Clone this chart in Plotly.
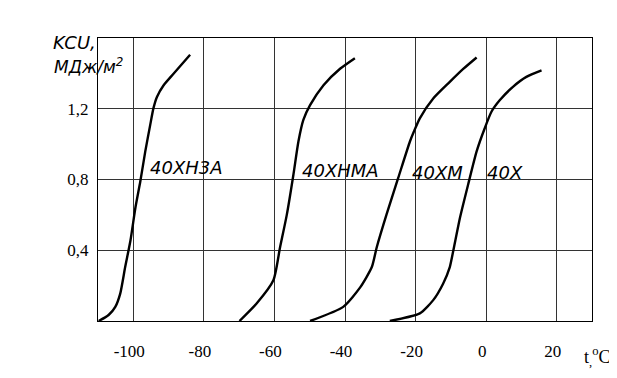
import plotly.graph_objects as go

# --- data ---
x_40xn3a = [-109.8, -107.0, -105.1, -103.7, -102.3, -100.8, -99.4, -98.0, -96.6, -95.2, -94.3,
            -93.3, -91.4, -88.6, -83.9]
y_40xn3a = [0.0, 0.034, 0.08, 0.155, 0.305, 0.455, 0.64, 0.79, 0.959, 1.109, 1.202,
            1.267, 1.333, 1.398, 1.505]

x_40xnma = [-69.9, -65.0, -60.3, -58.4, -56.5, -54.6, -53.2, -51.8, -49.9, -46.1, -41.4, -37.2]
y_40xnma = [0.0, 0.10, 0.23, 0.417, 0.60, 0.83, 1.015, 1.137, 1.22, 1.333, 1.426, 1.486]

x_40xm = [-49.9, -40.5, -35.7, -32.4, -31.0, -28.2, -24.9, -21.6, -20.5, -18.8, -15.0, -10.3, -6.5, -2.7]
y_40xm = [0.0, 0.08, 0.19, 0.305, 0.417, 0.604, 0.81, 1.015, 1.07, 1.146, 1.258, 1.352, 1.425, 1.49]

x_40x = [-27.3, -18.8, -15.0, -12.2, -10.3, -9.3, -7.4, -5.1, -2.7, -0.4, 1.5, 3.9, 7.6, 11.4, 15.7]
y_40x = [0.0, 0.043, 0.118, 0.211, 0.305, 0.398, 0.585, 0.772, 0.959, 1.09, 1.183, 1.249,
         1.324, 1.38, 1.417]

series_names = ["40ХН3А", "40ХНМА", "40ХМ", "40Х"]
label_x = [-95.8, -52.7, -21.6, -0.4]
label_y = [0.87, 0.85, 0.84, 0.84]

x_tickvals = [-100, -80, -60, -40, -20, 0, 20]
x_ticktext = ["-100", "-80", "-60", "-40", "-20", "0", "20"]
y_tickvals = [0.4, 0.8, 1.2]
y_ticktext = ["0,4", "0,8", "1,2"]

SERIF = "Liberation Serif"
SANS_IT = "DejaVu Sans"

fig = go.Figure()
for xs, ys, name in zip([x_40xn3a, x_40xnma, x_40xm, x_40x],
                        [y_40xn3a, y_40xnma, y_40xm, y_40x], series_names):
    fig.add_trace(go.Scatter(x=xs, y=ys, mode="lines", name=name,
                             line=dict(color="black", width=2.4, shape="spline", smoothing=0.6),
                             showlegend=False, hoverinfo="skip"))

for name, lx, ly in zip(series_names, label_x, label_y):
    fig.add_annotation(x=lx, y=ly, text=name, showarrow=False, xanchor="left", yanchor="middle",
                       font=dict(family=SANS_IT, size=18, color="black", style="italic"))

fig.add_annotation(xref="paper", yref="paper", x=-0.095, y=0.985, text="KCU,", showarrow=False,
                   xanchor="left", yanchor="middle",
                   font=dict(family=SANS_IT, size=18, color="black", style="italic"))
fig.add_annotation(xref="paper", yref="paper", x=-0.093, y=0.9, text="МДж/м<sup>2</sup>", showarrow=False,
                   xanchor="left", yanchor="middle",
                   font=dict(family=SANS_IT, size=17, color="black", style="italic"))
fig.add_annotation(xref="paper", yref="paper", x=1.01, y=-0.125, text="t<sub>,</sub><sup>o</sup>C",
                   showarrow=False, xanchor="center", yanchor="middle",
                   font=dict(family=SERIF, size=18, color="black"))

fig.update_xaxes(range=[-110, 30], tickvals=x_tickvals, ticktext=x_ticktext,
                 showgrid=True, gridcolor="#333", gridwidth=1, zeroline=False,
                 showline=True, linecolor="black", linewidth=1.3, mirror=True,
                 ticks="", ticklabelstandoff=14, ticklabelshift=-4,
                 tickfont=dict(family=SERIF, size=17, color="black"))
fig.update_yaxes(range=[0, 1.6], tickvals=y_tickvals, ticktext=y_ticktext,
                 showgrid=True, gridcolor="#333", gridwidth=1, zeroline=False,
                 showline=True, linecolor="black", linewidth=1.3, mirror=True,
                 ticks="", ticklabelstandoff=5,
                 tickfont=dict(family=SERIF, size=17, color="black"))

# page body adds an 8px offset, so the figure is 8px smaller and margins shifted
fig.update_layout(width=609, height=370, margin=dict(l=90, r=25, t=30, b=57),
                  plot_bgcolor="white", paper_bgcolor="white")

fig.write_html("out.html")
